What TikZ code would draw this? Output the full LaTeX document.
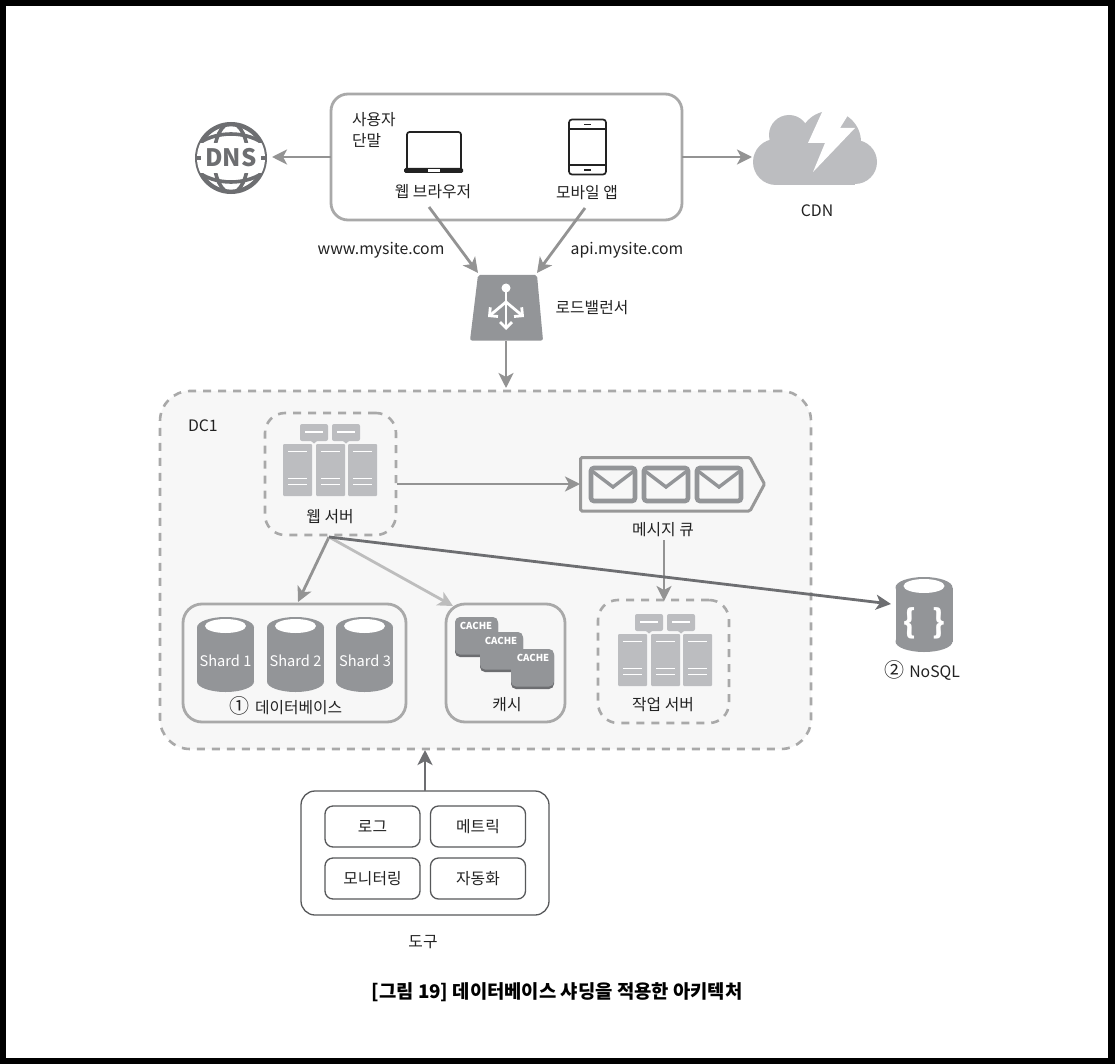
\documentclass[tikz,border=0pt]{standalone}
\usepackage{fontspec}
\setmainfont{Noto Sans CJK KR}
\usetikzlibrary{arrows.meta}
\definecolor{linegray}{HTML}{A9A9A9}
\definecolor{arrgray}{HTML}{939393}
\definecolor{lightarr}{HTML}{BDBDBD}
\definecolor{darkgray}{HTML}{6D6E71}
\definecolor{midgray}{HTML}{939598}
\definecolor{rackgray}{HTML}{BCBDC0}
\definecolor{cloudgray}{HTML}{BCBDC0}
\definecolor{dcfill}{HTML}{F7F7F7}
\definecolor{txt}{HTML}{222222}
\newcommand{\circnum}[1]{{\fontsize{20}{20}\selectfont #1}}
\tikzset{
  x=1pt,y=-1pt,
  every node/.style={inner sep=0pt,outer sep=0pt,text=txt},
  lbl/.style={font=\fontsize{15.8}{18}\selectfont},
  solidbox/.style={draw=linegray,line width=2.8pt,rounded corners=17pt,fill=white},
  dashbox/.style={draw=linegray,line width=2.6pt,rounded corners=20pt,dash pattern=on 8pt off 7pt,fill=dcfill},
  conn/.style={draw=arrgray,line width=2.8pt,-{Stealth[length=15pt,width=15pt,inset=4pt]}},
  toolbox/.style={draw=darkgray!80!black,line width=1.3pt,rounded corners=8pt,fill=white},
  pics/rack/.style={code={
    \foreach \xx in {0,33,65}{
      \fill[rackgray,rounded corners=1pt] (\xx,20) rectangle ++(29,52);
      \draw[white,line width=1.9pt] (\xx+5,27.5)--(\xx+24,27.5) (\xx+5,54.5)--(\xx+24,54.5) (\xx+5,60.5)--(\xx+24,60.5);
    }
    \foreach \xx in {17,49}{
      \fill[rackgray,rounded corners=2pt] (\xx,0) rectangle ++(28,17);
      \fill[rackgray] (\xx+11,17)--(\xx+17,17)--(\xx+14,19.5)--cycle;
      \draw[white,line width=1.9pt] (\xx+5,8)--(\xx+23,8);
    }
  }},
  pics/cyl/.style={code={
    \fill[midgray] (0,-22.5) ellipse[x radius=28.5,y radius=10.5];
    \fill[midgray] (0,31.5) ellipse[x radius=28.5,y radius=10.5];
    \fill[midgray] (-28.5,-22.5) rectangle (28.5,31.5);
    \fill[white] (0,-24) ellipse[x radius=20.5,y radius=7];
  }},
  pics/env/.style={code={
    \draw[midgray,line width=4.6pt,rounded corners=3pt] (0,0) rectangle (44,33);
    \draw[midgray,line width=3.4pt] (1,3)--(22,19)--(43,3);
  }},
  pics/cacheblk/.style={code={
    \fill[darkgray,rounded corners=5pt] (0,1.5) rectangle (43,40);
    \fill[midgray,rounded corners=5pt] (0,0) rectangle (43,37.5);
  }}
}
\begin{document}
\begin{tikzpicture}
\useasboundingbox (0,0) rectangle (1115,1064);
\fill[black] (0,0) rectangle (1115,1064);
\fill[white] (6,6) rectangle (1108,1058);

% DC1
\node[dashbox,rounded corners=30pt,minimum width=651pt,minimum height=358pt] (dc) at (485.5,570) {};
\node[lbl,anchor=west] (dclabel) at (188,426) {DC1};

% users box
\node[solidbox,minimum width=351pt,minimum height=126pt] (users) at (506.5,157) {};
\node[anchor=west,align=left,font=\fontsize{15.8}{21}\selectfont] (userlbl) at (352,130) {사용자\\단말};
% laptop
\draw[txt,line width=1.7pt,rounded corners=2.5pt] (407,169)--(407,132)--(461,132)--(461,169);
\fill[txt,rounded corners=1.5pt] (404,168) rectangle (463,173);
\fill[white] (428,169) rectangle (440,172);
\node[lbl] (browser) at (433,192) {웹 브라우저};
% phone
\draw[txt,line width=1.7pt,rounded corners=3pt] (569,119.5) rectangle (606,174.5);
\draw[txt,line width=1.2pt] (569,129)--(606,129) (569,165)--(606,165);
\draw[txt,line width=1.5pt] (584,124.5)--(591,124.5) (584,170)--(591,170);
\node[lbl] (mobile) at (587,193) {모바일 앱};

% DNS globe
\begin{scope}
\coordinate (dnsc) at (231,158);
\draw[darkgray,line width=4.4pt] (dnsc) circle[radius=33.8];
\begin{scope}
\clip (dnsc) circle[radius=34];
\draw[darkgray,line width=3.6pt] (dnsc) ellipse[x radius=17,y radius=35];
\draw[darkgray,line width=3.6pt] (195,146) .. controls (215,130) and (247,130) .. (267,146);
\draw[darkgray,line width=3.6pt] (195,170) .. controls (215,186) and (247,186) .. (267,170);
\fill[white] (190,143) rectangle (272,173);
\end{scope}
\fill[darkgray] (196,156) rectangle (201,160);
\fill[darkgray] (261,156) rectangle (266,160);
\end{scope}
\node[font=\fontsize{24}{24}\bfseries\selectfont,text=darkgray] (dns) at (231,158) {DNS};

% CDN cloud
\fill[cloudgray] (789,135) circle[radius=20];
\fill[cloudgray] (830,142) circle[radius=31];
\fill[cloudgray] (776,162) circle[radius=23];
\fill[cloudgray] (855,162) circle[radius=22];
\fill[cloudgray] (776,150) rectangle (855,185);
\fill[cloudgray] (785,130) rectangle (830,160);
\fill[white] (823,96)--(823,110)--(808,143)--(825,143)--(813,172)--(855,128)--(840,128)--(850,112)--(850,96)--cycle;
\coordinate (cloudw) at (752,157);
\node[lbl] (cdn) at (817,211) {CDN};

% URL labels
\node[lbl] (www) at (381,250) {www.mysite.com};
\node[lbl] (api) at (627,250) {api.mysite.com};

% Load balancer
\fill[midgray,rounded corners=2pt] (478,275)--(537,275)--(543,340.5)--(470,340.5)--cycle;
\coordinate (lbc) at (506,318);
\fill[white] (506,288) circle[radius=4.5];
\begin{scope}[white,line width=2.8pt,-{Straight Barb[length=6pt,width=12pt]}]
\draw (506,290)--(506,330);
\draw (506,302)--(488,317);
\draw (506,302)--(524,317);
\end{scope}
\coordinate (lbnw) at (478,273);
\coordinate (lbne) at (537,273);
\coordinate (lbs) at (506,341);
\node[lbl] (lblbl) at (592,308) {로드밸런서};
\coordinate (browserS) at (429,207);
\coordinate (mobileS) at (585,208);

% web server
\node[dashbox,minimum width=131pt,minimum height=122pt] (web) at (330.5,474) {};
\pic at (283,424) {rack};
\node[lbl] (weblbl) at (330,517) {웹 서버};

% message queue
\draw[linegray!90!black,line width=3pt,rounded corners=1.5pt] (580.5,457.5)--(750,457.5)--(764.5,484)--(750,511)--(580.5,511)--cycle;
\coordinate (mqw) at (580,484);
\pic at (591,468) {env};
\pic at (644,468) {env};
\pic at (697,468) {env};
\node[lbl] (mqlbl) at (663,530) {메시지 큐};
\coordinate (mqs) at (664,540);

% worker
\node[dashbox,minimum width=131pt,minimum height=123pt] (worker) at (663.5,661.5) {};
\pic at (618,614) {rack};
\node[lbl] (worklbl) at (663,705) {작업 서버};

% database
\node[solidbox,rounded corners=19pt,fill=dcfill,minimum width=223pt,minimum height=118pt] (db) at (294.5,663) {};
\pic at (225.5,650) {cyl};
\pic at (295.5,650) {cyl};
\pic at (364.5,650) {cyl};
\node[text=white,font=\fontsize{14.6}{17}\selectfont] (s1) at (225.5,661) {Shard 1};
\node[text=white,font=\fontsize{14.6}{17}\selectfont] (s2) at (295.5,661) {Shard 2};
\node[text=white,font=\fontsize{14.6}{17}\selectfont] (s3) at (365,661) {Shard 3};
\node[lbl] (dblbl) at (286,706) {\circnum{①}\,\,데이터베이스};

% cache
\node[solidbox,rounded corners=19pt,fill=dcfill,minimum width=119pt,minimum height=118pt] (cache) at (505.5,663) {};
\pic at (455,617) {cacheblk};
\pic at (480,632) {cacheblk};
\pic at (511,649) {cacheblk};
\node[font=\fontsize{9.6}{11}\bfseries\selectfont,text=white] (c1) at (476,626) {CACHE};
\node[font=\fontsize{9.6}{11}\bfseries\selectfont,text=white] (c2) at (501,641) {CACHE};
\node[font=\fontsize{9.6}{11}\bfseries\selectfont,text=white] (c3) at (533,658) {CACHE};
\node[lbl] (cachelbl) at (507,705) {캐시};

% NoSQL
\pic at (924,610) {cyl};
\node[font=\fontsize{32}{32}\bfseries\selectfont,text=white] (braces) at (924,623) {\{\,\,\,\}};
\node[lbl] (nosql) at (922,670) {\circnum{②}\,\,NoSQL};

% tools
\node[toolbox,rounded corners=14pt,minimum width=248pt,minimum height=124pt] (tools) at (425,853) {};
\node[toolbox,lbl,minimum width=95pt,minimum height=41pt] (log) at (372.5,826.5) {로그};
\node[toolbox,lbl,minimum width=95pt,minimum height=41pt] (metric) at (478,826.5) {메트릭};
\node[toolbox,lbl,minimum width=95pt,minimum height=41pt] (monitor) at (372.5,878.5) {모니터링};
\node[toolbox,lbl,minimum width=95pt,minimum height=41pt] (auto) at (478,878.5) {자동화};
\node[lbl] (toollbl) at (423,942) {도구};

% caption
\node[font=\fontsize{18.8}{22}\bfseries\selectfont,text=black] (caption) at (557,992) {[그림 19] 데이터베이스 샤딩을 적용한 아키텍처};

% connectors
\coordinate (webout) at (397,484);
\coordinate (webs) at (329,537);
\coordinate (dbtop) at (298,602);
\coordinate (cachetop) at (453,606);
\coordinate (nosqlw) at (891,604);
\coordinate (dnse) at (272,157);
\coordinate (dcs) at (425,750);
\coordinate (dct) at (506,388);
\coordinate (worktop) at (664,601);
\draw[conn] (users.west) -- (dnse);
\draw[conn] (users.east) -- (cloudw);
\draw[conn] (browserS) -- (lbnw);
\draw[conn] (mobileS) -- (lbne);
\draw[conn] (lbs) -- (dct);
\draw[conn] (webout) -- (mqw);
\draw[conn] (mqs) -- (worktop);
\draw[conn] (webs) -- (dbtop);
\draw[conn,draw=lightarr] (webs) -- (cachetop);
\draw[conn,draw=darkgray] (webs) -- (nosqlw);
\draw[conn,draw=darkgray] (tools.north) -- (dcs);
\end{tikzpicture}
\end{document}
